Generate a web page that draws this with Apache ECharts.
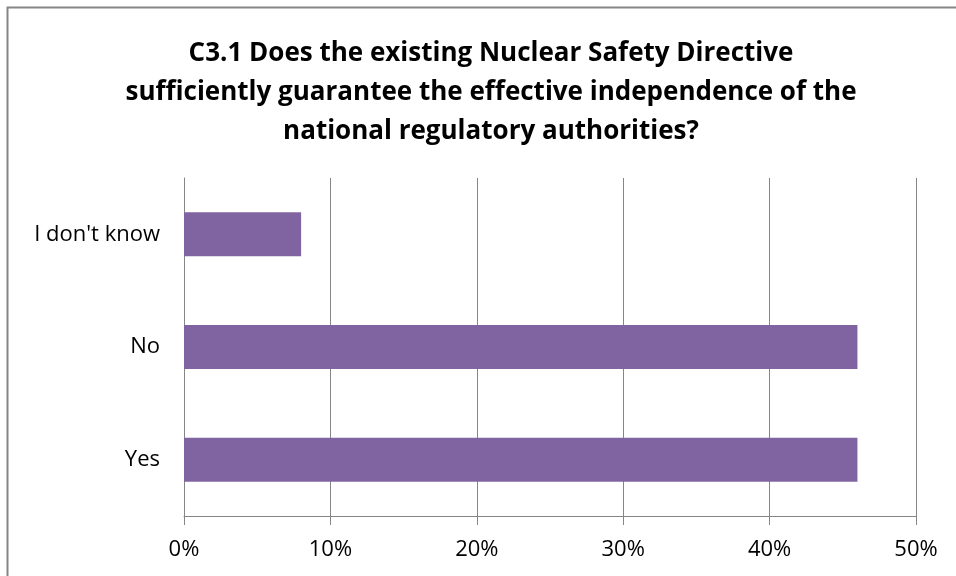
<!DOCTYPE html>
<html>
<head>
<meta charset="utf-8">
<script src="https://cdn.jsdelivr.net/npm/echarts@6/dist/echarts.min.js"></script>
<style>
html,body{margin:0;padding:0;background:#fff;}
#chart{width:956px;height:576px;}
</style>
</head>
<body>
<div id="chart"></div>
<script>
var categories = ['Yes', 'No', "I don't know"];
var shares = [46, 46, 8];
var xTicks = [0, 10, 20, 30, 40, 50];
var titleText = 'C3.1 Does the existing Nuclear Safety Directive\nsufficiently guarantee the effective independence of the\nnational regulatory authorities?';

(function(){
	var mychart = echarts.init(document.getElementById('chart'));
	var option = {
		backgroundColor: '#fff',
		animation: false,
		graphic: [{
			type: 'rect',
			shape: {x: 7.5, y: 7.5, width: 1000, height: 1000},
			style: {fill: 'none', stroke: '#868686', lineWidth: 2}
		}],
		title: {
			text: titleText,
			left: 486,
			top: 29,
			textAlign: 'center',
			textStyle: {
				fontFamily: 'Open Sans',
				fontWeight: 'bold',
				fontSize: 26,
				lineHeight: 39,
				color: '#000'
			}
		},
		grid: {
			left: 184,
			right: 40,
			top: 178,
			bottom: 60,
			containLabel: false
		},
		xAxis: {
			type: 'value',
			min: xTicks[0],
			max: xTicks[xTicks.length - 1],
			interval: 10,
			axisLine: {show: true, lineStyle: {color: '#868686', width: 1}},
			axisTick: {show: true, length: 9, lineStyle: {color: '#868686'}},
			splitLine: {show: true, lineStyle: {color: '#868686', width: 1}},
			axisLabel: {
				formatter: '{value}%',
				margin: 23,
				fontFamily: 'Open Sans',
				fontSize: 22,
				color: '#000'
			}
		},
		yAxis: {
			type: 'category',
			data: categories,
			axisLine: {show: true, lineStyle: {color: '#868686', width: 1}},
			axisTick: {show: false},
			axisLabel: {
				margin: 24,
				fontFamily: 'Open Sans',
				fontSize: 22,
				color: '#000'
			}
		},
		series: [{
			type: 'bar',
			data: shares,
			barWidth: 44,
			itemStyle: {color: '#8064A2'}
		}]
	};
	mychart.setOption(option, true);
})();
</script>
</body>
</html>
